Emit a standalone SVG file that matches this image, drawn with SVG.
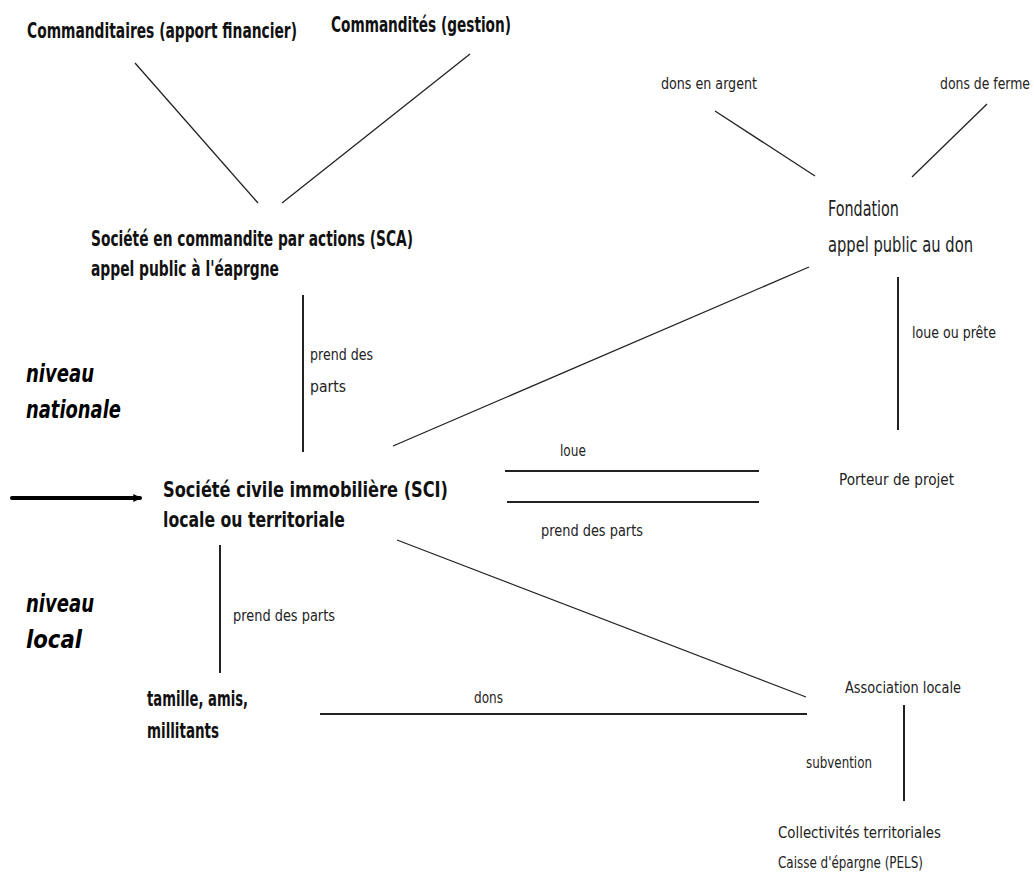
<svg xmlns="http://www.w3.org/2000/svg" width="1034" height="877" viewBox="0 0 1034 877">
<defs>
<style>
.b{font-family:"DejaVu Sans Condensed","Liberation Sans",sans-serif;font-weight:bold;font-size:21px;fill:#111}
.r{font-family:"DejaVu Sans Condensed","Liberation Sans",sans-serif;font-size:21px;fill:#222}
.s{font-family:"DejaVu Sans Condensed","Liberation Sans",sans-serif;font-size:15px;fill:#222}
.n{font-family:"DejaVu Sans Condensed","Liberation Sans",sans-serif;font-weight:bold;font-style:italic;font-size:25px;fill:#000}
.l{stroke:#222;stroke-width:1.3;fill:none}
.v{stroke:#222;stroke-width:2;fill:none}
</style>
<marker id="ah" viewBox="0 0 6 6" refX="5" refY="3" markerWidth="2" markerHeight="2" orient="auto">
<path d="M0,0 L6,3 L0,6 z" fill="#000"/>
</marker>
</defs>
<rect width="1034" height="877" fill="#fff"/>

<g id="connectors">
<line class="l" x1="135" y1="63" x2="258" y2="203"/>
<line class="l" x1="470" y1="54" x2="282" y2="203"/>
<line class="v" x1="303" y1="295" x2="303" y2="452"/>
<line class="l" x1="715" y1="111" x2="815" y2="176"/>
<line class="l" x1="987" y1="104" x2="912" y2="177"/>
<line class="l" x1="809" y1="267" x2="393" y2="446"/>
<line class="v" x1="898" y1="277" x2="898" y2="430"/>
<line class="v" x1="505" y1="471" x2="759" y2="471"/>
<line class="v" x1="507" y1="502" x2="759" y2="502"/>
<line class="l" x1="397" y1="540" x2="806" y2="697"/>
<line class="v" x1="220" y1="545" x2="220" y2="673"/>
<line class="v" x1="320" y1="714" x2="807" y2="714"/>
<line class="v" x1="904" y1="705" x2="904" y2="801"/>
<line x1="12" y1="498" x2="140" y2="498" stroke="#000" stroke-width="4" stroke-linecap="round" marker-end="url(#ah)"/>
</g>

<g id="labels">
<text class="s" transform="translate(310,360) scale(0.7,1)" textLength="90" lengthAdjust="spacingAndGlyphs">prend des</text>
<text class="s" transform="translate(310,392) scale(0.7,1)" textLength="51.4" lengthAdjust="spacingAndGlyphs">parts</text>
<text class="s" transform="translate(912,338) scale(0.7,1)" textLength="120" lengthAdjust="spacingAndGlyphs">loue ou prête</text>
<text class="s" transform="translate(560,456) scale(0.7,1)" textLength="37.1" lengthAdjust="spacingAndGlyphs">loue</text>
<text class="s" transform="translate(541,536) scale(0.7,1)" textLength="145.7" lengthAdjust="spacingAndGlyphs">prend des parts</text>
<text class="s" transform="translate(233,621) scale(0.7,1)" textLength="145.7" lengthAdjust="spacingAndGlyphs">prend des parts</text>
<text class="s" transform="translate(474,703) scale(0.7,1)" textLength="41.4" lengthAdjust="spacingAndGlyphs">dons</text>
<text class="s" transform="translate(806,768) scale(0.7,1)" textLength="94.3" lengthAdjust="spacingAndGlyphs">subvention</text>
</g>

<g id="commanditaires"><text class="b" transform="translate(27,38) scale(0.7,1)" textLength="385.7" lengthAdjust="spacingAndGlyphs">Commanditaires (apport financier)</text></g>
<g id="commandites"><text class="b" transform="translate(331,32) scale(0.7,1)" textLength="257.1" lengthAdjust="spacingAndGlyphs">Commandités (gestion)</text></g>
<g id="sca">
<text class="b" transform="translate(91,246) scale(0.7,1)" textLength="460" lengthAdjust="spacingAndGlyphs">Société en commandite par actions (SCA)</text>
<text class="b" transform="translate(91,276) scale(0.7,1)" textLength="268.6" lengthAdjust="spacingAndGlyphs">appel public à l'éaprgne</text>
</g>
<g id="dons-argent"><text class="s" transform="translate(661,89) scale(0.7,1)" textLength="137.1" lengthAdjust="spacingAndGlyphs">dons en argent</text></g>
<g id="dons-ferme"><text class="s" transform="translate(940,89) scale(0.7,1)" textLength="128.6" lengthAdjust="spacingAndGlyphs">dons de ferme</text></g>
<g id="fondation">
<text class="r" transform="translate(828,216) scale(0.7,1)" textLength="101.4" lengthAdjust="spacingAndGlyphs">Fondation</text>
<text class="r" transform="translate(828,252) scale(0.7,1)" textLength="207.1" lengthAdjust="spacingAndGlyphs">appel public au don</text>
</g>
<g id="niveau-nationale">
<text class="n" transform="translate(26,382) scale(0.8,1)" textLength="85" lengthAdjust="spacingAndGlyphs">niveau</text>
<text class="n" transform="translate(26,418) scale(0.8,1)" textLength="118.75" lengthAdjust="spacingAndGlyphs">nationale</text>
</g>
<g id="sci">
<text class="b" transform="translate(163,497) scale(0.7,1)" textLength="407.1" lengthAdjust="spacingAndGlyphs">Société civile immobilière (SCI)</text>
<text class="b" transform="translate(163,527) scale(0.7,1)" textLength="260" lengthAdjust="spacingAndGlyphs">locale ou territoriale</text>
</g>
<g id="porteur"><text class="s" transform="translate(839,485) scale(0.7,1)" textLength="164.3" lengthAdjust="spacingAndGlyphs">Porteur de projet</text></g>
<g id="niveau-local">
<text class="n" transform="translate(26,612) scale(0.8,1)" textLength="85" lengthAdjust="spacingAndGlyphs">niveau</text>
<text class="n" transform="translate(26,648) scale(0.8,1)" textLength="70" lengthAdjust="spacingAndGlyphs">local</text>
</g>
<g id="famille">
<text class="b" transform="translate(147,706) scale(0.7,1)" textLength="144.3" lengthAdjust="spacingAndGlyphs">tamille, amis,</text>
<text class="b" transform="translate(147,738) scale(0.7,1)" textLength="102.9" lengthAdjust="spacingAndGlyphs">millitants</text>
</g>
<g id="association"><text class="s" transform="translate(845,693) scale(0.7,1)" textLength="165.7" lengthAdjust="spacingAndGlyphs">Association locale</text></g>
<g id="collectivites">
<text class="s" transform="translate(778,838) scale(0.7,1)" textLength="232.9" lengthAdjust="spacingAndGlyphs">Collectivités territoriales</text>
<text class="s" transform="translate(778,868) scale(0.7,1)" textLength="207.1" lengthAdjust="spacingAndGlyphs">Caisse d'épargne (PELS)</text>
</g>
</svg>
